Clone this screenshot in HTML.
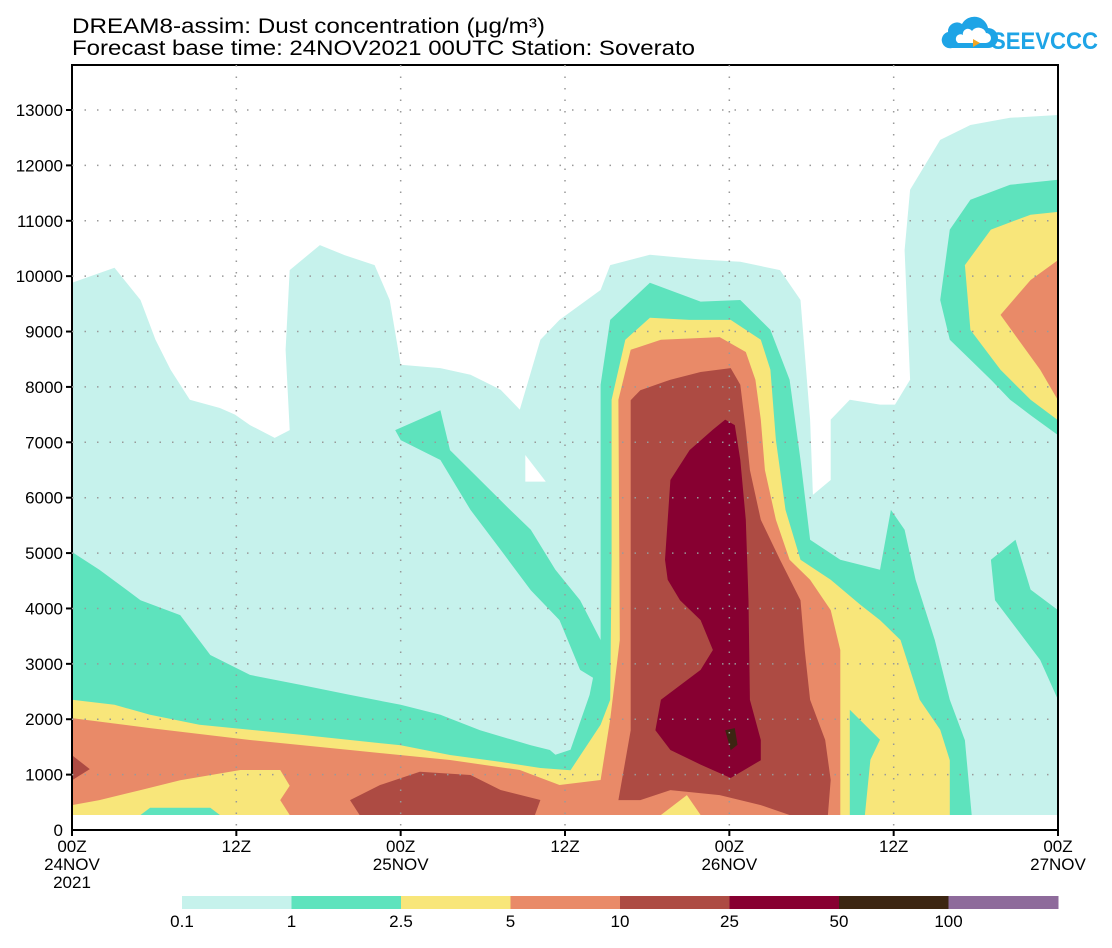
<!DOCTYPE html>
<html><head><meta charset="utf-8"><style>
body{margin:0;background:#fff;}
svg text{font-family:"Liberation Sans Narrow","Liberation Sans",sans-serif;}
</style></head><body>
<svg id="c" width="1112" height="943" viewBox="0 0 1112 943" xmlns="http://www.w3.org/2000/svg">
<text x="72" y="33" font-size="21" fill="#000" textLength="473" lengthAdjust="spacingAndGlyphs">DREAM8-assim: Dust concentration (μg/m³)</text>
<text x="72" y="55" font-size="21" fill="#000" textLength="623" lengthAdjust="spacingAndGlyphs">Forecast base time: 24NOV2021 00UTC  Station: Soverato</text>
<g>
<path d="M952 48 h36 a10 10 0 0 0 0-20 a14 14 0 0 0-26-4 a9 9 0 0 0-14 8 a8 8 0 0 0 4 16z" fill="#1ea4e6"/>
<path d="M958 43 h28 a5 5 0 0 0 0-10 a8 8 0 0 0-14-2 a5 5 0 0 0-9 4 a4 4 0 0 0-5 8z" fill="#fff"/>
<path d="M973 39 l7 4 l-7 4z" fill="#f5a623"/>
<text x="991" y="49" font-size="24" font-weight="bold" fill="#1ea4e6" textLength="107" lengthAdjust="spacingAndGlyphs">SEEVCCC</text>
</g>
<g id="plot"></g>
<rect x="72" y="65" width="986" height="765" fill="none" stroke="#000" stroke-width="2"/>
<g id="axes"></g>
<g id="legend"></g>
</svg>
<script>
const colors=["#c6f2ec","#5ee3bd","#f8e67a","#e98a68","#ad4b43","#870031","#3c2512","#8e6b9b"];
const levelLabels=["0.1","1","2.5","5","10","25","50","100"];
const yTicks=[0,1000,2000,3000,4000,5000,6000,7000,8000,9000,10000,11000,12000,13000];
const xTickHours=[0,12,24,36,48,60,72];
const xTickLabels=[["00Z","24NOV","2021"],["12Z"],["00Z","25NOV"],["12Z"],["00Z","26NOV"],["12Z"],["00Z","27NOV"]];
// contour polygons: [hour, metres], with level index
const cyanRegion=[[0,270],[0,9880],[3.1,10150],[5.0,9570],[6.1,8850],[7.2,8310],[8.6,7770],[10.8,7620],[11.9,7500],[13,7310],[14.8,7080],[15.9,7220],[15.6,8670],[15.9,10110],[18.1,10560],[19.9,10380],[22.1,10200],[23.2,9570],[24,8400],[26.9,8340],[29.1,8220],[31.3,7950],[32.7,7590],[34.2,8850],[35.6,9210],[38.6,9750],[39.3,10200],[42.2,10385],[45.9,10300],[48.8,10260],[51.7,10110],[53.2,9570],[53.9,7410],[54.1,6050],[55.4,6320],[55.4,7410],[56.8,7770],[59,7680],[60.1,7680],[61.2,8130],[60.8,10470],[61.2,11560],[63.4,12460],[65.6,12730],[68.5,12860],[72,12910],[72,270]];
const whiteNotch=[[33.1,6770],[34.6,6290],[33.1,6290]];
const greenMain=[[0,270],[0,5020],[2.0,4700],[5.0,4150],[7.9,3880],[10.1,3160],[13.0,2800],[16.7,2620],[20.3,2440],[24,2260],[26.9,2080],[29.8,1800],[33.5,1530],[34.9,1445],[35.3,1360],[36.4,1450],[37.8,2440],[38.6,3430],[38.6,8040],[39.3,9210],[42.2,9880],[45.9,9540],[48.8,9570],[51,9030],[52.4,8130],[53.2,6680],[53.9,5240],[56.1,4880],[59,4700],[59.8,5780],[60.8,5420],[61.6,4520],[63,3430],[64.1,2350],[65.2,1620],[65.7,270]];
const greenStrip=[[23.6,7220],[26.9,7580],[27.6,6860],[29.8,6320],[32,5780],[33.5,5420],[35.3,4700],[37.1,4150],[38.6,3430],[38.9,2620],[37.1,2890],[35.6,3790],[33.5,4330],[31.3,5060],[29.1,5780],[26.9,6680],[24,7040]];
const greenUpperRight=[[63.4,9570],[64.1,10840],[65.6,11380],[68.5,11650],[72,11740],[72,7130],[70,7490],[68.5,7770],[67.1,8130],[65.6,8490],[64.1,8850]];
const greenRight=[[67.1,4880],[68.9,5240],[70,4340],[72,3970],[72,2350],[70.7,3070],[68.5,3790],[67.4,4150]];
const yellowMain=[[0,270],[0,2350],[3.1,2260],[5.7,2080],[9.3,1900],[16.7,1720],[24,1530],[27.6,1355],[31.3,1230],[34.2,1120],[36.4,1080],[38.6,1900],[39.3,2350],[39.4,4880],[39.4,7770],[40.4,8850],[42.2,9250],[45.1,9210],[48.1,9210],[50.3,8850],[51,8310],[51.4,7040],[52.1,5780],[53.2,4880],[55.4,4520],[57.6,4060],[59,3790],[60.5,3430],[61.9,2350],[63.4,1810],[64.1,1260],[64.1,270]];
const yellowUpperRight=[[65.2,10200],[67.1,10840],[70,11110],[72,11160],[72,7400],[70,7770],[67.8,8310],[65.6,9030]];
const greenStripe2=[[56.8,2170],[58.3,1800],[59,1630],[58.3,1270],[57.9,270],[56.8,270]];
const orangeMain=[[0,270],[0,2020],[5.7,1840],[13,1625],[20.3,1445],[27.6,1264],[32.7,1084],[35.6,813],[38.6,903],[39.3,2000],[40,3430],[39.9,7770],[40.8,8670],[43,8850],[47.3,8900],[49.2,8630],[49.9,8130],[50.3,7410],[50.6,6500],[51.4,5600],[52.4,4880],[53.9,4520],[55.4,3970],[56.1,3250],[56.1,270]];
const orangeUpperRight=[[67.8,9300],[70,9930],[72,10290],[72,7760],[70.7,8310]];
const yellowBottomLeft=[[0,270],[0,450],[2,540],[5,720],[7.9,900],[12.3,1084],[15.2,1084],[15.9,800],[15.2,540],[15.9,270]];
const greenBottomLeft=[[5.0,270],[5.7,400],[10.1,400],[10.8,270]];
const yellowBottomMid=[[43,270],[44.9,630],[45.9,270]];
const redLeftEdge=[[0,1350],[1.3,1100],[0,900]];
const redBottom=[[21.0,270],[20.3,540],[22.5,813],[25.4,1050],[29.1,993],[31.3,722],[34.2,542],[33.8,270]];
const redPlume=[[39.9,540],[40.8,1800],[40.8,3430],[40.8,7760],[41.5,7940],[43.7,8130],[45.9,8270],[48.1,8340],[48.8,8040],[49.2,7220],[49.5,6500],[50.3,5600],[51.7,4880],[53.2,4150],[53.5,3250],[53.9,2350],[55,1625],[55.4,903],[55.2,270],[52.4,270],[50.3,450],[47.3,630],[43.7,720],[41.5,540]];
const maroonCore=[[43.3,4880],[43.7,6320],[45.1,6860],[46.8,7230],[47.7,7410],[48.4,7310],[48.8,6680],[49.2,5600],[49.4,4150],[49.5,2350],[50.3,1625],[50.3,1260],[48.1,939],[45.9,1180],[43.7,1445],[42.6,1800],[43,2350],[45.9,2890],[46.8,3250],[45.9,3790],[44.4,4150],[43.5,4520]];
const brownSpot=[[47.7,1800],[48.4,1840],[48.6,1540],[48.1,1440]];

const layers=[
 ["cyan-region",cyanRegion,0],["white-notch",whiteNotch,-1],
 ["green-main",greenMain,1],["green-strip",greenStrip,1],["green-upper-right",greenUpperRight,1],["green-right",greenRight,1],
 ["yellow-main",yellowMain,2],["yellow-upper-right",yellowUpperRight,2],["green-stripe",greenStripe2,1],
 ["orange-main",orangeMain,3],["orange-upper-right",orangeUpperRight,3],
 ["yellow-bottom-left",yellowBottomLeft,2],["green-bottom-left",greenBottomLeft,1],["yellow-bottom-mid",yellowBottomMid,2],
 ["red-left-edge",redLeftEdge,4],["red-bottom",redBottom,4],["red-plume",redPlume,4],
 ["maroon-core",maroonCore,5],["brown-spot",brownSpot,6]];

const X0=72,X1=1058,Y0=830,Ymax=110;
const xs=h=>X0+h*(X1-X0)/72;
const ys=m=>Y0-m*(Y0-Ymax)/13000;
const NS="http://www.w3.org/2000/svg";
function mk(tag,attrs,parent){const e=document.createElementNS(NS,tag);for(const k in attrs)e.setAttribute(k,attrs[k]);parent.appendChild(e);return e;}
const plot=document.getElementById('plot');
for(const [name,pts,lvl] of layers){
 const p=mk('polygon',{points:pts.map(q=>xs(q[0]).toFixed(1)+','+ys(q[1]).toFixed(1)).join(' '),fill:lvl<0?'#fff':colors[lvl]},plot);
 
 
}
const axes=document.getElementById('axes');
for(const t of yTicks){ if(t===0) continue;
 const l=mk('line',{x1:X0,x2:X1,y1:ys(t),y2:ys(t),stroke:'#999','stroke-width':1.5,'stroke-dasharray':'1.5 11'},axes);
 
 
 const tk=mk('line',{x1:X0-6,x2:X0,y1:ys(t),y2:ys(t),stroke:'#000','stroke-width':2},axes);
 
 
}
for(const t of yTicks){
 const tx=mk('text',{x:63,y:ys(t)+6,'font-size':17,'text-anchor':'end'},axes);tx.textContent=t;
 
 
}
xTickHours.forEach((h,i)=>{
 if(i>0&&i<6){const l=mk('line',{x1:xs(h),x2:xs(h),y1:65,y2:Y0,stroke:'#999','stroke-width':1.5,'stroke-dasharray':'1.5 10'},axes);
 
 }
 const tk=mk('line',{x1:xs(h),x2:xs(h),y1:Y0,y2:Y0+6,stroke:'#000','stroke-width':2},axes);
 
 
 xTickLabels[i].forEach((s,j)=>{
  const tx=mk('text',{x:xs(h),y:Y0+22+j*18,'font-size':17,'text-anchor':'middle'},axes);tx.textContent=s;
  
  
 });
});
mk('line',{x1:X0,x2:X1,y1:Y0,y2:Y0,stroke:'#000','stroke-width':2},axes);
const lg=document.getElementById('legend');
const LX=182,LW=(1058-182)/8;
colors.forEach((c,i)=>{
 const r=mk('rect',{x:LX+i*LW,y:896,width:LW+0.5,height:13,fill:c},lg);
 
 
 const tx=mk('text',{x:LX+i*LW,y:927,'font-size':17,'text-anchor':'middle'},lg);tx.textContent=levelLabels[i];
 
 
});
</script>
</body></html>
